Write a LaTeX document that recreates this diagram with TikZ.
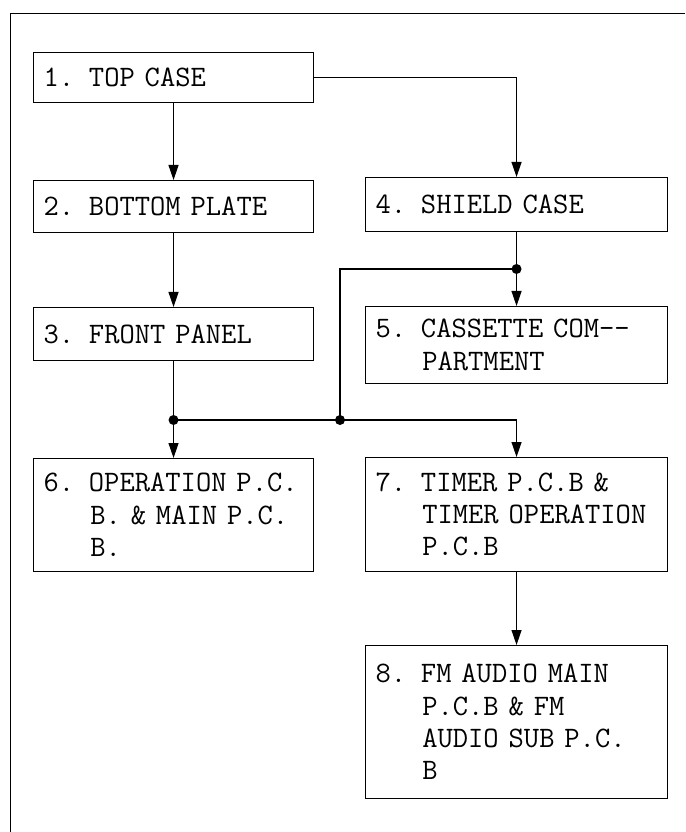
\documentclass[tikz,border=0pt]{standalone}
\usepackage{fontspec}
\usepackage{tikz}
\usetikzlibrary{arrows.meta, positioning, calc}
\tikzset{
  part/.style={draw, line width=0.6pt, anchor=north west, align=left, inner sep=0.2cm,
    font=\fontsize{16.9pt}{18.4pt}\selectfont\ttfamily},
  partL/.style={part, text width=5.2cm},
  partR/.style={part, text width=5.64cm},
  link/.style={line width=0.6pt},
  arr/.style={link, -{Triangle[length=0.3cm, width=0.2cm]}},
  dot/.style={fill=black},
}
\def\xL{0.66}
\def\xR{7.3}
\def\yJ{-8.4}
\def\ind{\hspace*{1.575em}}

\begin{document}
\begin{tikzpicture}
\useasboundingbox (0,0) rectangle (13.7,-16.64);

% ── frame ────────────────────────────────────────────────────────────────────
\draw[line width=0.5pt] (0.2,-16.64) -- (0.2,-0.26) -- (13.7,-0.26);

% ── left column ──────────────────────────────────────────────────────────────
\node[partL, minimum height=1.0cm] (top) at (\xL, -1.04) {1. TOP CASE};
\node[partL, minimum height=1.04cm] (bottom) at (\xL, -3.6) {2. BOTTOM PLATE};
\node[partL, minimum height=1.06cm] (front) at (\xL, -6.14) {3. FRONT PANEL};
\node[partL, minimum height=2.26cm] (oper) at (\xL, -9.16)
  {6. OPERATION P.C.\\\ind B. \& MAIN P.C.\\\ind B.};

% ── right column ─────────────────────────────────────────────────────────────
\node[partR, minimum height=1.08cm] (shield) at (\xR, -3.54) {4. SHIELD CASE};
\node[partR, minimum height=1.54cm] (cass) at (\xR, -6.12)
  {5. CASSETTE COM--\\\ind PARTMENT};
\node[partR, minimum height=2.28cm] (timer) at (\xR, -9.14)
  {7. TIMER P.C.B \&\\\ind TIMER OPERATION\\\ind P.C.B};
\node[partR, minimum height=3.06cm] (fm) at (\xR, -12.9)
  {8. FM AUDIO MAIN\\\ind P.C.B \& FM\\\ind AUDIO SUB P.C.\\\ind B};

% junctions
\coordinate (jL) at (front.south |- 0,\yJ);
\coordinate (jM) at (6.8, \yJ);
\coordinate (jR) at (shield.south |- 0,-5.38);

% ── connectors ───────────────────────────────────────────────────────────────
\draw[arr] (top) -- (bottom);
\draw[arr] (top.east) -| (shield);
\draw[arr] (bottom) -- (front);
\draw[link] (front) -- (jL);
\draw[arr] (jL) -- (oper);
\draw[arr] (jL) -| (timer);
\draw[link] (shield) -- (jR);
\draw[arr] (jR) -- (cass);
\draw[link] (jR) -| (jM);
\draw[arr] (timer) -- (fm);
\foreach \j in {jL, jM, jR}
  \fill[dot] (\j) circle (0.1);

\end{tikzpicture}
\end{document}
